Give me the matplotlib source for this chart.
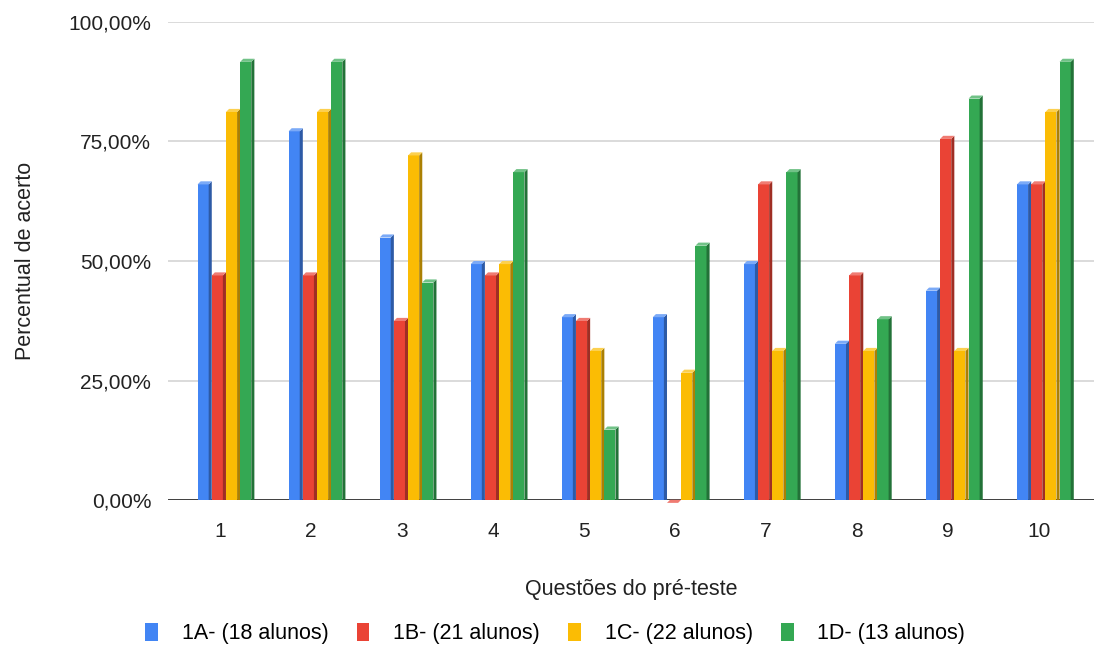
import numpy as np
import matplotlib.pyplot as plt
from matplotlib.patches import Polygon, Patch
from matplotlib.colors import to_rgb
from matplotlib.ticker import FuncFormatter

plt.rcParams["font.family"] = ["Liberation Sans", "DejaVu Sans"]

# ------------------------------------------------------------
# Dados
# ------------------------------------------------------------

questoes = ["1", "2", "3", "4", "5", "6", "7", "8", "9", "10"]

turmas = ["1A- (18 alunos)", "1B- (21 alunos)", "1C- (22 alunos)", "1D- (13 alunos)"]

acerto_1a = [66.67, 77.78, 55.56, 50.00, 38.89, 38.89, 50.00, 33.33, 44.44, 66.67]
acerto_1b = [47.62, 47.62, 38.10, 47.62, 38.10, 0.00, 66.67, 47.62, 76.19, 66.67]
acerto_1c = [81.82, 81.82, 72.73, 50.00, 31.82, 27.27, 31.82, 31.82, 31.82, 81.82]
acerto_1d = [92.31, 92.31, 46.15, 69.23, 15.38, 53.85, 69.23, 38.46, 84.62, 92.31]

series = [acerto_1a, acerto_1b, acerto_1c, acerto_1d]
cores = ["#4285F4", "#EA4335", "#FBBC04", "#34A853"]

# ------------------------------------------------------------
# Figura
# ------------------------------------------------------------

fig = plt.figure(figsize=(10.95, 6.45), dpi=100)
ax = fig.add_axes([0.1534, 0.2248, 0.8456, 0.7411])

x = np.arange(1, len(questoes) + 1)
passo = 0.156       # distancia entre barras do grupo
largura = 0.122     # face frontal
dx = 0.034          # profundidade (efeito 3D)
dy = 0.65
base = -0.6


def escurecer(c, f=0.68):
    r, g, b = to_rgb(c)
    return (r * f, g * f, b * f)


def clarear(c, f=0.3):
    r, g, b = to_rgb(c)
    return (r + (1 - r) * f, g + (1 - g) * f, b + (1 - b) * f)


for i, (vals, cor) in enumerate(zip(series, cores)):
    pos = x + (i - 1.5) * passo + 0.05
    vals = np.asarray(vals)
    # a tampa superior termina no valor; barras nulas ficam so com a tampa
    frente = np.maximum(vals - dy, base)
    ax.bar(pos, frente - base, bottom=base, width=largura, color=cor,
           linewidth=0, zorder=3)
    for xc, v in zip(pos, frente):
        x0 = xc - largura / 2
        x1 = xc + largura / 2
        lado = Polygon([(x1, base), (x1 + dx, base + dy), (x1 + dx, v + dy), (x1, v)],
                       closed=True, facecolor=escurecer(cor), linewidth=0, zorder=3)
        topo = Polygon([(x0, v), (x0 + dx, v + dy), (x1 + dx, v + dy), (x1, v)],
                       closed=True, facecolor=clarear(cor), linewidth=0, zorder=3,
                       clip_on=False)
        ax.add_patch(lado)
        ax.add_patch(topo)

# ------------------------------------------------------------
# Eixos
# ------------------------------------------------------------

ax.set_xlim(0.43, 10.6)
ax.set_ylim(0, 100)
ax.set_yticks([0, 25, 50, 75, 100])
ax.yaxis.set_major_formatter(FuncFormatter(lambda v, p: f"{v:.2f}%".replace(".", ",")))
ax.set_xticks(x)
ax.set_xticklabels(questoes)

ax.grid(axis="y", color="#d4d4d4", linewidth=1.2, zorder=0)
ax.axhline(0, color="#333333", linewidth=1.3, zorder=2)
for s in ax.spines.values():
    s.set_visible(False)
ax.tick_params(axis="both", length=0, labelsize=15, colors="#222222")
ax.tick_params(axis="y", pad=12)
ax.tick_params(axis="x", pad=16)

ax.set_xlabel("Questões do pré-teste", fontsize=15.5, color="#222222", labelpad=27)
ax.set_ylabel("Percentual de acerto", fontsize=15.5, color="#222222")
ax.yaxis.set_label_coords(-0.143, 0.5)

handles = [Patch(facecolor=c, edgecolor="none") for c in cores]
fig.legend(handles, turmas, loc="center", bbox_to_anchor=(0.507, 0.018),
           ncol=4, frameon=False, fontsize=15.5, handlelength=0.6,
           handleheight=0.9, handletextpad=1.1, columnspacing=1.3)

fig.savefig("out.png", dpi=100)
